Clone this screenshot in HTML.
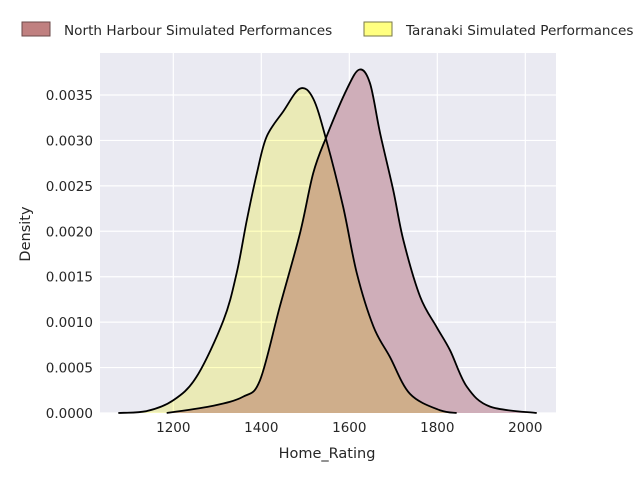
<!DOCTYPE html>
<html><head><meta charset="utf-8"><style>
body{margin:0;background:#fff;font-family:"Liberation Sans","DejaVu Sans",sans-serif;}
svg text{font-family:"DejaVu Sans","Liberation Sans",sans-serif;fill:#262626}
</style></head><body>
<svg id="chart" width="640" height="480">
<rect x="100" y="53" width="456" height="360" fill="#eaeaf2"/>
<g id="grid"></g>
<g id="series"></g>
<g id="ticks"></g>
<text x="327" y="458" font-size="14.5" text-anchor="middle">Home_Rating</text>
<text x="30" y="234" font-size="14.5" text-anchor="middle" transform="rotate(-90 30 234)">Density</text>
<g>
<g>
<rect x="22" y="22" width="28" height="14" fill="#c08080" stroke="#6b4a4a" stroke-width="1"/>
<text x="64" y="35" font-size="13.6">North Harbour Simulated Performances</text></g>
<g>
<rect x="364" y="22" width="28" height="14" fill="#ffff80" stroke="#77774a" stroke-width="1"/>
<text x="406" y="35" font-size="13.6">Taranaki Simulated Performances</text></g>
</g>
</svg>
<script>
const xTicks=[1200,1400,1600,1800,2000];
const yTicks=[0,0.0005,0.001,0.0015,0.002,0.0025,0.003,0.0035];
const yTickLabels=["0.0000","0.0005","0.0010","0.0015","0.0020","0.0025","0.0030","0.0035"];
const nhX=[1185,1291,1359,1397,1442,1488,1518,1548,1594,1623,1647,1670,1700,1723,1761,1798,1829,1867,1920,2026];
const nhY=[0,0.00008,0.00018,0.00036,0.00117,0.00198,0.00264,0.00304,0.00356,0.00378,0.00363,0.00308,0.00245,0.0019,0.00128,0.00095,0.00069,0.00029,0.00007,0];
const tkX=[1075,1139,1200,1253,1314,1344,1367,1390,1412,1450,1488,1518,1548,1586,1617,1655,1692,1738,1806,1844];
const tkY=[0,0.00002,0.00014,0.0004,0.00102,0.00154,0.00212,0.00264,0.00304,0.00332,0.00357,0.00346,0.003,0.00227,0.00154,0.00095,0.00062,0.00021,0.00003,0];
const NS="http://www.w3.org/2000/svg";
const xs=v=>173.3+(v-1200)*0.44;
const ys=v=>413-v*(318/0.0035);
function mk(t,a,parent){const e=document.createElementNS(NS,t);for(const k in a)e.setAttribute(k,a[k]);parent.appendChild(e);return e;}
const grid=document.getElementById('grid'),ticks=document.getElementById('ticks'),series=document.getElementById('series');
xTicks.forEach(v=>{
 const l=mk('line',{x1:xs(v),x2:xs(v),y1:53,y2:413,stroke:'#fff','stroke-width':1.2},grid);
 
 
 const t=mk('text',{x:xs(v),y:432,'font-size':13.5,'text-anchor':'middle'},ticks);t.textContent=v;
 
 
});
yTicks.forEach((v,i)=>{
 const l=mk('line',{x1:100,x2:556,y1:ys(v),y2:ys(v),stroke:'#fff','stroke-width':1.2},grid);
 
 
 const t=mk('text',{x:93,y:ys(v)+5,'font-size':13.5,'text-anchor':'end'},ticks);t.textContent=yTickLabels[i];
 
 
});
function curve(X,Y){
 const p=X.map((x,i)=>[xs(x),ys(Y[i])]);
 let d='M'+p[0][0]+','+p[0][1];
 for(let i=0;i<p.length-1;i++){
  const p0=p[Math.max(i-1,0)],p1=p[i],p2=p[i+1],p3=p[Math.min(i+2,p.length-1)];
  const c1=[p1[0]+(p2[0]-p0[0])/6,p1[1]+(p2[1]-p0[1])/6],c2=[p2[0]-(p3[0]-p1[0])/6,p2[1]-(p3[1]-p1[1])/6];
  d+=`C${c1[0]},${Math.min(c1[1],413)} ${c2[0]},${Math.min(c2[1],413)} ${p2[0]},${p2[1]}`;
 }
 return d;
}
const nhD=curve(nhX,nhY),tkD=curve(tkX,tkY);
const a=mk('path',{d:nhD+'Z',fill:'rgb(207,174,185)'},series);


const b=mk('path',{d:tkD+'Z',fill:'rgb(255,255,192)',style:'mix-blend-mode:multiply'},series);


const c=mk('path',{d:nhD,fill:'none',stroke:'#000','stroke-width':1.8,'stroke-linejoin':'round'},series);


const e=mk('path',{d:tkD,fill:'none',stroke:'#000','stroke-width':1.8,'stroke-linejoin':'round'},series);


</script>
</body></html>
